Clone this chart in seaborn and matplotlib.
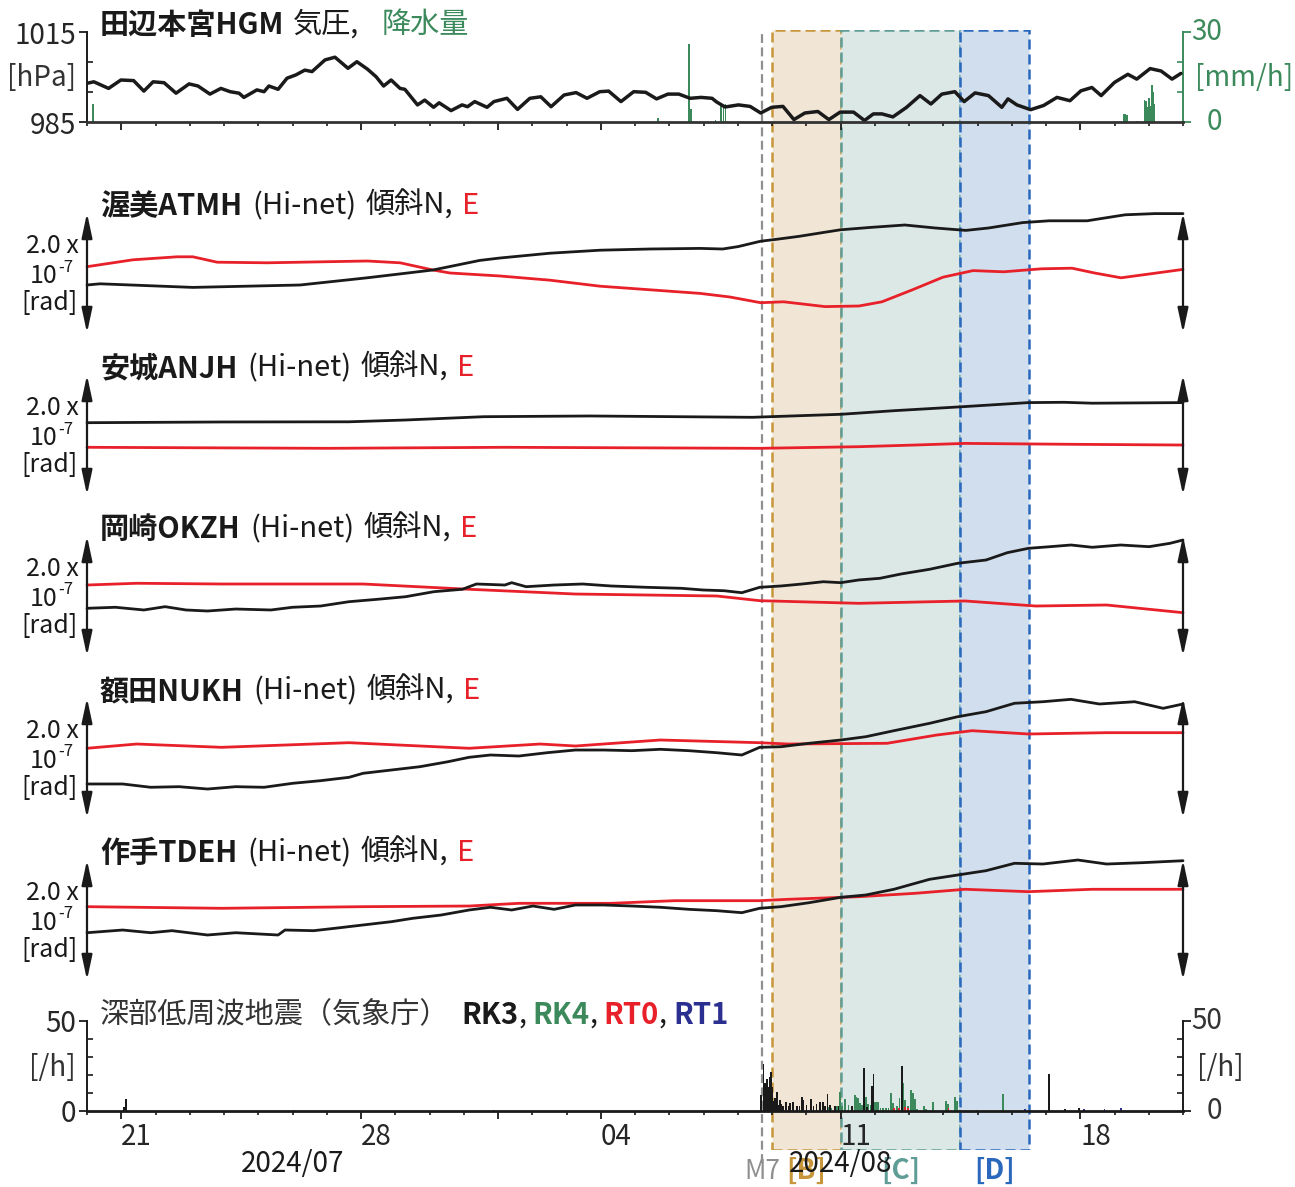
import numpy as np
import pandas as pd
import matplotlib
matplotlib.use("Agg")
import matplotlib.pyplot as plt
import matplotlib.transforms as mtransforms
import seaborn as sns

# ---------------- data (time = days since 2024-07-20 00:00) ----------------
pres_t = [0, 0.20, 0.63, 0.99, 1.36, 1.66, 1.93, 2.25, 2.60, 2.98,
          3.24, 3.59, 3.91, 4.18, 4.44, 4.58, 4.96, 5.17, 5.31, 5.58,
          5.84, 6.10, 6.36, 6.57, 6.95, 7.24, 7.62, 7.88, 8.19, 8.44,
          8.66, 8.88, 9.14, 9.28, 9.65, 9.86, 10.12, 10.28, 10.63, 10.95,
          11.11, 11.32, 11.68, 11.88, 12.26, 12.57, 12.93, 13.25, 13.55, 13.93,
          14.28, 14.60, 14.97, 15.23, 15.59, 15.96, 16.31, 16.63, 16.96, 17.28,
          17.61, 17.93, 18.25, 18.38, 18.63, 19.02, 19.36, 19.67, 19.99, 20.32,
          20.64, 20.96, 21.34, 21.66, 21.99, 22.38, 22.70, 22.96, 23.21, 23.53,
          23.93, 24.32, 24.64, 24.96, 25.34, 25.61, 25.93, 26.32, 26.71, 26.89,
          27.15, 27.55, 27.93, 28.32, 28.70, 29.02, 29.34, 29.61, 30.00, 30.39,
          30.65, 31.04, 31.36, 31.68, 31.94]
pres_hpa = [997.9, 998.4, 996.2, 999.0, 998.8, 995.3, 998.4, 998.1, 994.6, 997.7,
            997.0, 994.3, 996.2, 995.1, 994.6, 993.2, 995.7, 995.1, 997.0, 995.9,
            999.6, 1000.7, 1002.3, 1001.8, 1005.7, 1006.6, 1002.9, 1005.1, 1002.6, 1000.1,
            997.0, 999.0, 996.2, 995.9, 990.7, 992.3, 989.9, 991.4, 988.8, 990.7,
            990.1, 991.8, 989.9, 991.8, 992.9, 989.2, 992.9, 993.4, 990.1, 994.0,
            994.8, 992.9, 995.1, 995.3, 991.8, 995.1, 994.9, 992.7, 994.3, 994.3,
            992.9, 993.2, 992.9, 991.7, 990.0, 990.7, 990.2, 988.0, 989.9, 990.2,
            985.8, 988.0, 988.5, 985.8, 988.3, 988.3, 985.5, 987.7, 987.7, 986.7,
            989.9, 993.8, 991.0, 994.3, 995.1, 991.8, 994.7, 993.8, 989.9, 992.7,
            990.7, 989.1, 990.5, 993.2, 992.1, 995.4, 996.5, 993.8, 998.2, 1000.9,
            999.3, 1002.8, 1002.0, 999.3, 1001.2]

rain_t = [0.18, 16.67, 17.58, 17.64, 18.35, 18.51, 18.58, 18.64, 30.28, 30.32,
          30.36, 30.66, 30.88, 30.92, 30.96, 31.00, 31.04, 31.09, 31.13, 31.17]
rain_mm = [6.0, 1.3, 26.0, 4.5, 0.6, 6.3, 5.0, 6.0, 2.7, 2.7,
           2.5, 0.5, 7.5, 7.0, 5.0, 8.0, 5.5, 12.5, 10.0, 6.0]

# tilt, in units of 1e-7 rad (arrow = 2.0)
atmh_n_t = [0.0, 0.38, 3.09, 6.22, 8.18, 10.10, 11.47, 12.06, 13.52, 14.98,
            16.44, 17.90, 18.56, 19.01, 19.67, 20.11, 20.78, 21.44, 22.0, 22.88,
            23.88, 24.77, 25.66, 26.32, 27.32, 28.09, 29.20, 29.64, 30.31, 31.18, 32.0]
atmh_n = [0.80, 0.82, 0.76, 0.80, 0.92, 1.05, 1.21, 1.25, 1.33, 1.38,
          1.40, 1.41, 1.40, 1.44, 1.53, 1.56, 1.61, 1.67, 1.72, 1.76,
          1.80, 1.75, 1.71, 1.75, 1.84, 1.87, 1.87, 1.91, 1.97, 1.99, 1.99]
atmh_e_t = [0.0, 1.34, 2.63, 3.09, 3.80, 5.26, 8.18, 9.14, 10.10, 10.60,
            12.06, 13.52, 14.98, 16.44, 17.90, 18.77, 19.67, 20.34, 21.55, 22.54,
            23.21, 24.10, 24.99, 25.87, 26.76, 27.87, 28.76, 29.42, 30.19, 30.97, 32.0]
atmh_e = [1.105, 1.22, 1.27, 1.27, 1.18, 1.17, 1.20, 1.17, 1.05, 1.00,
          0.95, 0.88, 0.78, 0.72, 0.66, 0.60, 0.505, 0.52, 0.44, 0.45,
          0.52, 0.72, 0.93, 1.04, 1.02, 1.07, 1.08, 1.00, 0.92, 0.98, 1.06]

anjh_n_t = [0.0, 3.93, 7.65, 9.30, 11.58, 14.68, 19.43, 22.01, 23.56, 25.52, 27.49, 28.53, 29.35, 32.0]
anjh_n = [1.205, 1.217, 1.22, 1.25, 1.305, 1.317, 1.295, 1.345, 1.405, 1.47, 1.54, 1.545, 1.53, 1.54]
anjh_e_t = [0.0, 7.03, 12.2, 19.64, 22.53, 24.18, 25.64, 28.73, 32.0]
anjh_e = [0.795, 0.778, 0.795, 0.778, 0.805, 0.833, 0.86, 0.845, 0.833]

okzh_n_t = [0.0, 0.83, 1.66, 2.28, 2.89, 3.52, 4.34, 5.37, 6.00, 6.82,
            7.65, 8.48, 9.30, 10.13, 10.96, 11.37, 12.20, 12.40, 12.82, 13.64,
            14.47, 15.30, 16.33, 17.36, 17.99, 18.60, 19.12, 19.64, 20.26, 20.88,
            21.50, 22.01, 22.53, 23.15, 23.77, 24.60, 25.42, 26.25, 26.87, 27.49,
            28.12, 28.73, 29.35, 30.18, 31.01, 31.62, 32.0]
okzh_n = [0.795, 0.812, 0.767, 0.822, 0.767, 0.75, 0.783, 0.767, 0.812, 0.833,
          0.905, 0.945, 0.988, 1.072, 1.112, 1.2, 1.183, 1.222, 1.155, 1.183,
          1.2, 1.167, 1.145, 1.128, 1.1, 1.088, 1.055, 1.145, 1.167, 1.2,
          1.238, 1.222, 1.267, 1.295, 1.367, 1.445, 1.545, 1.6, 1.722, 1.795,
          1.822, 1.85, 1.812, 1.85, 1.822, 1.878, 1.933]
okzh_e_t = [0.0, 1.45, 3.93, 8.06, 11.16, 14.26, 18.39, 19.64, 22.53, 25.64, 27.70, 29.77, 32.0]
okzh_e = [1.183, 1.212, 1.2, 1.2, 1.112, 1.033, 1.0, 0.922, 0.878, 0.917, 0.833, 0.85, 0.722]

nukh_n_t = [0.0, 1.04, 1.86, 2.69, 3.52, 4.34, 5.17, 6.00, 6.82, 7.65,
            8.06, 8.89, 9.72, 10.54, 11.16, 11.78, 12.61, 13.43, 14.26, 15.09,
            15.91, 16.74, 17.57, 18.39, 19.12, 19.64, 20.26, 21.08, 22.01, 22.74,
            23.56, 24.60, 25.42, 26.25, 27.08, 27.91, 28.73, 29.56, 30.59, 31.42, 32.0]
nukh_n = [0.567, 0.567, 0.512, 0.522, 0.483, 0.522, 0.512, 0.578, 0.622, 0.678,
          0.745, 0.8, 0.855, 0.938, 1.012, 1.05, 1.033, 1.088, 1.133, 1.133,
          1.122, 1.145, 1.122, 1.088, 1.05, 1.178, 1.188, 1.245, 1.3, 1.355,
          1.455, 1.578, 1.688, 1.772, 1.912, 1.938, 1.978, 1.9, 1.938, 1.828, 1.9]
nukh_e_t = [0.0, 1.45, 3.93, 7.65, 11.16, 13.23, 14.26, 16.74, 19.64, 20.47, 23.36, 24.81, 25.84, 27.49, 29.77, 32.0]
nukh_e = [1.162, 1.233, 1.178, 1.255, 1.162, 1.233, 1.2, 1.3, 1.255, 1.233, 1.245, 1.383, 1.455, 1.4, 1.422, 1.422]

tdeh_n_t = [0.0, 1.04, 1.86, 2.48, 3.52, 4.34, 5.58, 5.78, 6.62, 7.24,
            8.06, 8.89, 9.51, 10.34, 11.16, 11.78, 12.40, 13.02, 13.64, 14.26,
            15.09, 15.91, 16.74, 17.57, 18.39, 19.12, 19.64, 20.26, 21.08, 22.01,
            22.74, 23.56, 24.60, 25.42, 26.25, 27.08, 27.91, 28.93, 29.77, 30.80, 32.0]
tdeh_n = [0.788, 0.833, 0.788, 0.822, 0.75, 0.788, 0.75, 0.833, 0.822, 0.862,
          0.917, 0.972, 1.028, 1.083, 1.167, 1.212, 1.167, 1.233, 1.178, 1.25,
          1.25, 1.233, 1.212, 1.178, 1.155, 1.122, 1.195, 1.222, 1.288, 1.378,
          1.417, 1.512, 1.678, 1.75, 1.822, 1.945, 1.933, 2.0, 1.933, 1.955, 1.988]
tdeh_e_t = [0.0, 3.93, 8.06, 11.16, 12.61, 15.30, 17.16, 19.64, 20.47, 22.53, 24.18, 25.64, 27.49, 29.35, 32.0]
tdeh_e = [1.222, 1.195, 1.222, 1.233, 1.278, 1.278, 1.322, 1.322, 1.345, 1.388, 1.445, 1.512, 1.472, 1.512, 1.512]

# deep low-frequency earthquakes per hour
rk3_t = [1.07, 1.13, 19.67, 19.75, 19.79, 19.82, 19.86, 19.90, 19.94, 19.97,
         20.00, 20.04, 20.09, 20.14, 20.18, 20.23, 20.28, 20.33, 20.41, 20.48,
         20.53, 20.62, 20.72, 20.80, 20.87, 20.91, 21.01, 21.13, 21.21, 21.30,
         21.40, 21.48, 21.55, 21.62, 21.69, 21.84, 21.94, 22.33, 22.69, 22.77,
         22.91, 22.96, 23.79, 28.09, 28.56, 28.97]
rk3_n = [2, 6.7, 8.9, 26, 15.4, 10.7, 17.6, 13.5, 19, 21.9,
         13.5, 5.7, 7, 10.7, 3.3, 6.1, 3.9, 2.6, 5.2, 2.6,
         4.6, 5.2, 2.6, 2.9, 7.6, 6.1, 3.3, 6.5, 2.6, 3.9,
         5.2, 5.2, 2.6, 9.4, 3.3, 2.9, 2.6, 2.9, 23.7, 2.0,
         14, 20.6, 25, 20.6, 1.0, 1.8]
rk4_t = [6.04, 19.75, 21.65, 21.74, 21.89, 21.99, 22.04, 22.13, 22.23, 22.33,
         22.42, 22.47, 22.52, 22.57, 22.62, 22.74, 22.81, 22.88, 23.01, 23.06,
         23.10, 23.17, 23.25, 23.33, 23.40, 23.47, 23.54, 23.64, 23.72, 23.83,
         23.88, 23.98, 24.05, 24.11, 24.18, 24.24, 24.44, 24.50, 24.71, 25.08,
         25.14, 25.34, 25.41, 25.98, 26.75]
rk4_n = [0.5, 0.8, 2.5, 1.5, 3.0, 10.7, 2.6, 6.5, 3.3, 1.5,
         8.9, 8.0, 7.0, 4.6, 3.3, 8.0, 3.9, 3.3, 5.2, 5.2,
         5.2, 1.5, 1.5, 1.5, 1.5, 10.2, 4.6, 2.6, 7.0, 15.4,
         6.1, 2.9, 11.7, 10.2, 6.5, 1.0, 2.9, 1.0, 5.2, 5.7,
         3.9, 7.6, 5.7, 0.7, 9.4]
rt0_t = [11.88, 23.56, 23.70, 23.88, 23.98, 25.15]
rt0_n = [0.8, 1.5, 1.5, 2.0, 1.5, 1.5]
rt1_t = [27.39, 29.10, 29.71, 30.19]
rt1_n = [1.0, 1.0, 1.0, 1.5]

# periods
m7_t = 19.71
periods = [("[B]", 20.0, 22.0), ("[C]", 22.0, 25.5), ("[D]", 25.5, 27.5)]

day_ticks = [1, 8, 12, 15, 22, 29]
day_labels = ["21", "28", "", "04", "11", "18"]
month_labels = [("2024/07", 6.0), ("2024/08", 22.0)]

# ---------------- style ----------------
sns.set_theme(style="white")
plt.rcParams["font.family"] = ["Noto Sans CJK JP", "DejaVu Sans"]
plt.rcParams["axes.unicode_minus"] = False

BLACK = "#1a1a1a"
RED = "#e8202a"
GREEN = "#3c8a5c"
NAVY = "#2b2f8f"
GREY = "#8f8f8f"
pcol = {"[B]": ("#c8963a", "#f1e6d6"), "[C]": ("#5f9d96", "#dce8e6"), "[D]": ("#2a68bd", "#d1deee")}

W, H, DPI = 1295, 1187, 100
fig = plt.figure(figsize=(W / DPI, H / DPI), dpi=DPI, facecolor="white")


def fx(x):
    return x / W


def fy(y):
    return 1 - y / H


def box(x0, y0, x1, y1):
    return [fx(x0), fy(y1), fx(x1) - fx(x0), fy(y0) - fy(y1)]


XL, XR = 87, 1183
TICK_FS = 20
TITLE_FS = 21

# ---------------- background period boxes ----------------
ov = fig.add_axes(box(XL, 30, XR, 1150), zorder=0)
ov.set_xlim(0, 32)
ov.set_ylim(0, 1)
ov.axis("off")
for name, a, b in periods:
    ec, fc = pcol[name]
    ov.axvspan(a, b, facecolor=fc, edgecolor=ec, ls=(0, (4, 2)), lw=1.8)
ov.axvline(m7_t, ymin=-0.012, ymax=1.0, color=GREY, ls=(0, (4, 2)), lw=1.6, clip_on=False)
blend = mtransforms.blended_transform_factory(ov.transData, ov.transAxes)
ov.text(m7_t, -0.0195, "M7", transform=blend, ha="center", va="center", color=GREY, fontsize=19)
for name, a, b in periods:
    ov.text((a + b) / 2, -0.0185, name, transform=blend, ha="center", va="center",
            color=pcol[name][0], fontsize=20, fontweight="bold")


def day_axis(ax, labels):
    ax.set_xlim(0, 32)
    ax.set_xticks(day_ticks)
    ax.set_xticks(range(0, 33), minor=True)
    ax.tick_params(axis="x", which="major", direction="out", length=6, width=1.3,
                   color=BLACK, bottom=True, labelbottom=labels, labelsize=TICK_FS, pad=2)
    ax.tick_params(axis="x", which="minor", direction="out", length=3.2, width=1.2,
                   color=BLACK, bottom=True)
    if labels:
        ax.set_xticklabels(day_labels)
        for lab in ax.get_xticklabels():
            lab.set_horizontalalignment("left")
    else:
        ax.set_xticklabels([])


# ---------------- pressure / rain panel ----------------
axr = fig.add_axes(box(XL, 32, XR, 122), zorder=1)
axr.patch.set_visible(False)
axr.bar(rain_t, rain_mm, width=0.05, color=GREEN, linewidth=0)
axr.set_xlim(0, 32)
axr.set_ylim(0, 30)
for s in ["left", "top", "bottom"]:
    axr.spines[s].set_visible(False)
axr.spines["right"].set_color(GREEN)
axr.spines["right"].set_linewidth(1.4)
axr.yaxis.tick_right()
axr.set_yticks([0, 30])
axr.set_yticks([10, 20], minor=True)
axr.tick_params(axis="y", which="major", direction="out", length=6, width=1.3, color=GREEN,
                right=True, left=False, labelright=False, labelleft=False)
axr.tick_params(axis="y", which="minor", direction="in", length=4, width=1.2, color=GREEN,
                right=True, left=False)
axr.set_xticks([])
axr.set_xlabel("")
axr.set_ylabel("")

axp = fig.add_axes(box(XL, 32, XR, 122), zorder=2)
axp.patch.set_visible(False)
sns.lineplot(x=pres_t, y=pres_hpa, ax=axp, color=BLACK, lw=2.5, estimator=None)
axp.set_ylim(985, 1015)
for s in ["right", "top"]:
    axp.spines[s].set_visible(False)
axp.spines["left"].set_color(BLACK)
axp.spines["left"].set_linewidth(1.4)
axp.spines["bottom"].set_color("#333333")
axp.spines["bottom"].set_linewidth(2.0)
axp.set_yticks([985, 1015])
axp.set_yticks([995, 1005], minor=True)
axp.tick_params(axis="y", which="major", direction="out", length=6, width=1.3, color=BLACK,
                labelsize=TICK_FS, pad=2, left=True)
axp.tick_params(axis="y", which="minor", direction="in", length=4, width=1.2, color=BLACK, left=True)
day_axis(axp, False)
axp.set_xlabel("")
axp.set_ylabel("")

fig.text(fx(76), fy(78), "[hPa]", ha="right", va="center", fontsize=TICK_FS, color="#333333")
fig.text(fx(1222), fy(32), "30", ha="right", va="center", fontsize=TICK_FS, color=GREEN)
fig.text(fx(1222), fy(122), "0", ha="right", va="center", fontsize=TICK_FS, color=GREEN)
fig.text(fx(1195), fy(78), "[mm/h]", ha="left", va="center", fontsize=TICK_FS, color=GREEN)

renderer = fig.canvas.get_renderer()


def rich(x, y, parts, size=TITLE_FS):
    cx = x
    for s, color, weight, gap in parts:
        t = fig.text(fx(cx), fy(y), s, color=color, fontweight=weight, fontsize=size,
                     ha="left", va="center")
        bb = t.get_window_extent(renderer=renderer)
        cx += bb.width + gap


rich(100, 25, [("田辺本宮HGM", BLACK, "bold", 9), ("気圧,", BLACK, "normal", 22),
               ("降水量", GREEN, "normal", 0)])

# ---------------- tilt panels ----------------
tilt = [
    ("渥美ATMH", 213, atmh_n_t, atmh_n, atmh_e_t, atmh_e),
    ("安城ANJH", 375, anjh_n_t, anjh_n, anjh_e_t, anjh_e),
    ("岡崎OKZH", 536, okzh_n_t, okzh_n, okzh_e_t, okzh_e),
    ("額田NUKH", 698, nukh_n_t, nukh_n, nukh_e_t, nukh_e),
    ("作手TDEH", 860, tdeh_n_t, tdeh_n, tdeh_e_t, tdeh_e),
]
for name, ytop, nt, nv, et, ev in tilt:
    ax = fig.add_axes(box(XL, ytop, XR, ytop + 120), zorder=2)
    ax.patch.set_visible(False)
    sns.lineplot(x=et, y=ev, ax=ax, color=RED, lw=2.0, estimator=None)
    sns.lineplot(x=nt, y=nv, ax=ax, color=BLACK, lw=2.0, estimator=None)
    for ln in ax.get_lines():
        ln.set_clip_on(False)
    ax.set_xlim(0, 32)
    ax.set_ylim(0, 2.0)
    ax.axis("off")
    for xa in (0, 1):
        ax.annotate("", xy=(xa, 1), xytext=(xa, 0), xycoords="axes fraction",
                    arrowprops=dict(arrowstyle="<|-|>,head_length=0.75,head_width=0.16",
                                    lw=1.6, color=BLACK, shrinkA=0, shrinkB=0,
                                    mutation_scale=20), annotation_clip=False)
    rich(100, ytop - 7, [(name, BLACK, "bold", 10), ("(Hi-net)", BLACK, "normal", 9),
                         ("傾斜N,", BLACK, "normal", 9), ("E", RED, "normal", 0)])
    fig.text(fx(79), fy(ytop + 33), "2.0 x", ha="right", va="center", fontsize=18, color=BLACK)
    fig.text(fx(58), fy(ytop + 63), "10", ha="right", va="center", fontsize=18, color=BLACK)
    fig.text(fx(58), fy(ytop + 54), "-7", ha="left", va="center", fontsize=12, color=BLACK)
    fig.text(fx(78), fy(ytop + 90), "[rad]", ha="right", va="center", fontsize=18, color=BLACK)

# ---------------- DLF panel ----------------
axb = fig.add_axes(box(XL, 1021, XR, 1111), zorder=2)
axb.patch.set_visible(False)
for tt, nn, cc in [(rk4_t, rk4_n, GREEN), (rk3_t, rk3_n, BLACK), (rt0_t, rt0_n, RED), (rt1_t, rt1_n, NAVY)]:
    axb.bar(tt, nn, width=0.05, color=cc, linewidth=0)
axb.set_ylim(0, 50)
axb.spines["top"].set_visible(False)
for s in ["left", "right", "bottom"]:
    axb.spines[s].set_color(BLACK)
    axb.spines[s].set_linewidth(1.4)
axb.spines["bottom"].set_linewidth(2.0)
axb.set_yticks([0, 50])
axb.set_yticks([10, 20, 30, 40], minor=True)
axb.tick_params(axis="y", which="major", direction="out", length=6, width=1.3, color=BLACK,
                left=True, right=True, labelleft=True, labelright=False, labelsize=TICK_FS, pad=2)
axb.tick_params(axis="y", which="minor", direction="in", length=4, width=1.2, color=BLACK,
                left=True, right=True)
day_axis(axb, True)
axb.set_xlabel("")
axb.set_ylabel("")

fig.text(fx(76), fy(1068), "[/h]", ha="right", va="center", fontsize=TICK_FS, color="#333333")
fig.text(fx(1222), fy(1021), "50", ha="right", va="center", fontsize=TICK_FS, color="#333333")
fig.text(fx(1222), fy(1111), "0", ha="right", va="center", fontsize=TICK_FS, color="#333333")
fig.text(fx(1197), fy(1068), "[/h]", ha="left", va="center", fontsize=TICK_FS, color="#333333")
for lab, tpos in month_labels:
    axb.annotate(lab, xy=(tpos, 0), xycoords=("data", "axes fraction"), xytext=(0, -38),
                 textcoords="offset points", ha="center", va="center", fontsize=TICK_FS,
                 color=BLACK, annotation_clip=False)

rich(100, 1015, [("深部低周波地震（気象庁）", "#333333", "normal", 12), ("RK3", BLACK, "bold", 0),
                 (",", BLACK, "normal", 6), ("RK4", GREEN, "bold", 0), (",", BLACK, "normal", 6),
                 ("RT0", RED, "bold", 0), (",", BLACK, "normal", 6), ("RT1", NAVY, "bold", 0)])

fig.savefig("out.png", dpi=DPI, facecolor="white")
